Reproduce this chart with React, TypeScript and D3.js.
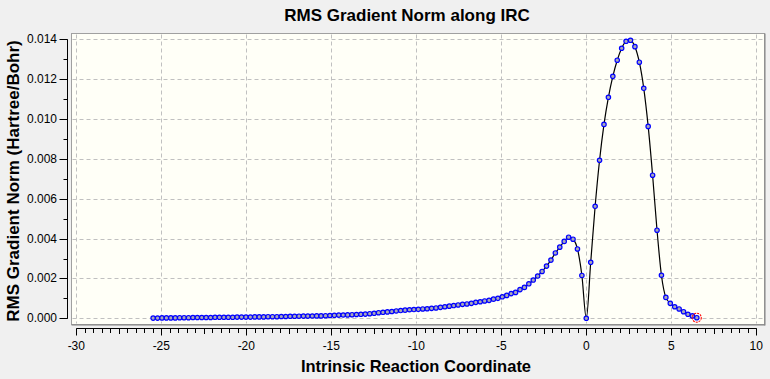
import React, { useEffect } from "react";
import * as d3 from "d3";

// IRC step size (amu^1/2 Bohr) between consecutive points
const IRC_STEP = 0.26;

// Reverse direction (step 1 .. 98 toward negative IRC), RMS gradient (Hartree/Bohr)
const reverseGrad = [
  0.00215, 0.00348, 0.00397, 0.00407, 0.00386, 0.00357, 0.00328, 0.00292, 0.00262, 0.00235,
  0.00212, 0.00192, 0.00173, 0.00155, 0.00144, 0.0013, 0.00124, 0.00115, 0.00108, 0.001,
  0.00096, 0.0009, 0.00087, 0.00083, 0.0008, 0.00075, 0.00072, 0.0007, 0.00067, 0.00064,
  0.00061, 0.00058, 0.00055, 0.00052, 0.0005, 0.00048, 0.00047, 0.00045, 0.00044, 0.00043,
  0.00041, 0.00039, 0.00037, 0.00034, 0.00032, 0.0003, 0.00028, 0.00025, 0.00023, 0.00021,
  0.0002, 0.00019, 0.00018, 0.00017, 0.000165, 0.00016, 0.00015, 0.00014, 0.00013, 0.00012,
  0.00012, 0.000115, 0.00011, 0.00011, 0.000105, 0.0001, 0.0001, 0.00009, 0.00009, 0.00008,
  0.00008, 0.00008, 0.00007, 0.00007, 0.00007, 0.00006, 0.00006, 0.00006, 0.00006, 0.00005,
  0.00005, 0.00005, 0.00005, 0.00005, 0.00004, 0.00004, 0.00004, 0.00004, 0.00004, 0.00003,
  0.00003, 0.00003, 0.00002, 0.00002, 0.00002, 0.00002, 0.00001, 0.00001,
];

// Forward direction (step 0 = TS .. 25), RMS gradient (Hartree/Bohr)
const forwardGrad = [
  0.0, 0.00281, 0.00562, 0.00793, 0.00973, 0.01109, 0.01214, 0.01295, 0.01355, 0.0139,
  0.01395, 0.01363, 0.01285, 0.01154, 0.00963, 0.00718, 0.00442, 0.00216, 0.00105, 0.00075,
  0.00058, 0.00047, 0.00033, 0.0002, 0.00012, 0.00003,
];

const xTickValues = [-30, -25, -20, -15, -10, -5, 0, 5, 10];
const yTickValues = [0, 0.002, 0.004, 0.006, 0.008, 0.01, 0.012, 0.014];

const TITLE = "RMS Gradient Norm along IRC";
const X_TITLE = "Intrinsic Reaction Coordinate";
const Y_TITLE = "RMS Gradient Norm (Hartree/Bohr)";

const W = 770;
const H = 379;
const FONT = "'Liberation Sans', Arial, 'DejaVu Sans', sans-serif";

type Pt = { x: number; y: number };

export default function App() {
  useEffect(() => {
    document.body.style.margin = "0";
    document.body.style.background = "#F0F0F0";
  }, []);

  const pts: Pt[] = [
    ...reverseGrad.map((v, i) => ({ x: -(i + 1) * IRC_STEP, y: v })).reverse(),
    ...forwardGrad.map((v, i) => ({ x: i * IRC_STEP, y: v })),
  ];

  const x = d3.scaleLinear().domain([-30, 10]).range([76.3, 756.3]);
  const y = d3.scaleLinear().domain([0, 0.014]).range([318.3, 39.3]);

  const frame = { left: 71.5, top: 33.5, right: 764.5, bottom: 324.5 };

  const line = d3
    .line<Pt>()
    .x((d) => x(d.x))
    .y((d) => y(d.y))
    .curve(d3.curveMonotoneX);

  const minorX = d3.range(-30, 10.001, 0.5);
  const minorY = d3.range(0, 0.01401, 0.001);
  const axisY = 328.5;
  const axisX = 67.5;
  const fmt = d3.format(".3f");
  const last = pts[pts.length - 1];

  return (
    <svg width={W} height={H} style={{ display: "block" }} fontFamily={FONT}>
      <rect x={0} y={0} width={W} height={H} fill="#F0F0F0" />
      {/* plot area */}
      <rect
        x={frame.left}
        y={frame.top}
        width={frame.right - frame.left}
        height={frame.bottom - frame.top}
        fill="#FFFFF7"
        stroke="#A0A0A0"
        strokeWidth={1}
      />
      <line x1={frame.left} x2={frame.right + 0.5} y1={frame.bottom + 0.5} y2={frame.bottom + 0.5} stroke="#808080" strokeWidth={1} />
      <line x1={frame.right + 0.5} x2={frame.right + 0.5} y1={frame.top} y2={frame.bottom + 1} stroke="#808080" strokeWidth={1} />

      {/* grid */}
      <g stroke="#C0C0C0" strokeWidth={1} strokeDasharray="4,3">
        {xTickValues.map((t) => (
          <line key={"gx" + t} x1={Math.round(x(t)) + 0.5} x2={Math.round(x(t)) + 0.5} y1={frame.top + 1} y2={frame.bottom - 1} />
        ))}
        {yTickValues.map((t) => (
          <line key={"gy" + t} x1={frame.left + 1} x2={frame.right - 1} y1={Math.round(y(t)) + 0.5} y2={Math.round(y(t)) + 0.5} />
        ))}
      </g>

      {/* curve */}
      <path d={line(pts) || ""} fill="none" stroke="#000" strokeWidth={1.2} />
      <g>
        {pts.map((p, i) => (
          <circle key={i} cx={x(p.x)} cy={y(p.y)} r={2.2} fill="#A8A8B8" stroke="#0000FF" strokeWidth={1.2} />
        ))}
      </g>
      <circle cx={x(last.x)} cy={y(last.y)} r={4.5} fill="none" stroke="#FF0000" strokeWidth={1.1} strokeDasharray="2,1" />

      {/* x axis */}
      <g stroke="#000" strokeWidth={1}>
        <line x1={x(-30)} x2={x(10) + 0.5} y1={axisY} y2={axisY} />
        {minorX.map((t) => {
          const major = Math.abs(t % 5) < 1e-6;
          const mid = !major && Math.abs(t % 2.5) < 1e-6;
          const len = major ? 7 : mid ? 5.5 : 4.5;
          const px = Math.round(x(t)) + 0.5;
          return <line key={"tx" + t} x1={px} x2={px} y1={axisY} y2={axisY + len} />;
        })}
      </g>
      <g fontSize={12} fill="#000" textAnchor="middle">
        {xTickValues.map((t) => (
          <text key={"lx" + t} x={x(t)} y={350}>
            {String(t)}
          </text>
        ))}
      </g>

      {/* y axis */}
      <g stroke="#000" strokeWidth={1}>
        <line x1={axisX} x2={axisX} y1={y(0.014)} y2={y(0) + 0.5} />
        {minorY.map((t, i) => {
          const major = i % 2 === 0;
          const py = Math.round(y(t)) + 0.5;
          return <line key={"ty" + i} x1={axisX - (major ? 8 : 4)} x2={axisX} y1={py} y2={py} />;
        })}
      </g>
      <g fontSize={12} fill="#000" textAnchor="end">
        {yTickValues.map((t) => (
          <text key={"ly" + t} x={57} y={y(t) + 4}>
            {fmt(t)}
          </text>
        ))}
      </g>

      {/* titles */}
      <text x={407} y={21} textAnchor="middle" fontSize={17} fontWeight="bold">
        {TITLE}
      </text>
      <text x={416} y={372} textAnchor="middle" fontSize={16.5} fontWeight="bold">
        {X_TITLE}
      </text>
      <text transform={`translate(19,181) rotate(-90)`} textAnchor="middle" fontSize={17} fontWeight="bold">
        {Y_TITLE}
      </text>
    </svg>
  );
}
